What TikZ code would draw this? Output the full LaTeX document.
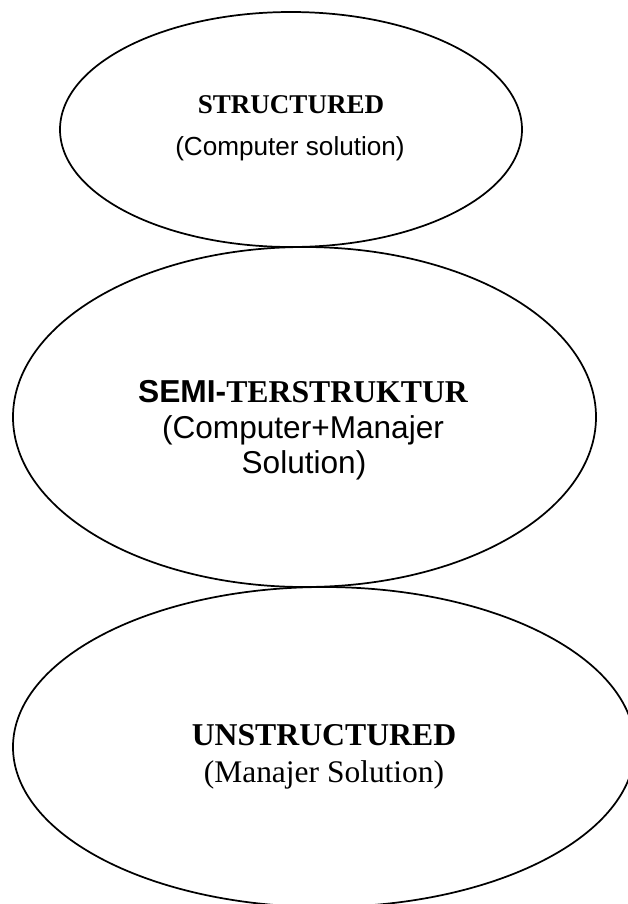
\documentclass[tikz,border=0pt]{standalone}
\usepackage{fontspec}
\setmainfont{Liberation Serif}
\setsansfont{Liberation Sans}
\usetikzlibrary{shapes.geometric}

\tikzset{
  oval/.style={draw=black, line width=1.3pt, ellipse, inner sep=0pt},
  txt/.style={anchor=base, inner sep=0pt},
  headA/.style={txt, font=\fontsize{20.3}{24}\selectfont\bfseries},
  subA/.style={txt, font=\fontsize{19.6}{24}\sffamily},
  headB/.style={txt, font=\fontsize{23.8}{28}\selectfont\bfseries},
  subB/.style={txt, font=\fontsize{23.7}{28}\sffamily},
  subC/.style={txt, font=\fontsize{23.6}{28}\selectfont},
}

\begin{document}
\begin{tikzpicture}[x=0.75pt, y=-0.75pt]
  \useasboundingbox (0,0) rectangle (628,904);

  % the three problem-type ovals (sizes in pt: 0.75pt per unit)
  \node[oval, minimum width=346.5pt, minimum height=176.25pt] (structured) at (291,129.5) {};
  \node[oval, minimum width=437.25pt, minimum height=255pt] (semi) at (304.5,417) {};
  \node[oval, minimum width=466.5pt, minimum height=240pt] (unstructured) at (324,747) {};

  % labels
  \node[headA] (t1) at (291,113) {STRUCTURED};
  \node[subA]  (s1) at (290,155) {(Computer solution)};

  \node[headB] (t2) at (303,402) {{\sffamily SEMI-}TERSTRUKTUR};
  \node[subB]  (s2a) at (303,438) {(Computer+Manajer};
  \node[subB]  (s2b) at (304,473) {Solution)};

  \node[headB] (t3) at (324,745) {UNSTRUCTURED};
  \node[subC]  (s3) at (324,782) {(Manajer Solution)};
\end{tikzpicture}
\end{document}
